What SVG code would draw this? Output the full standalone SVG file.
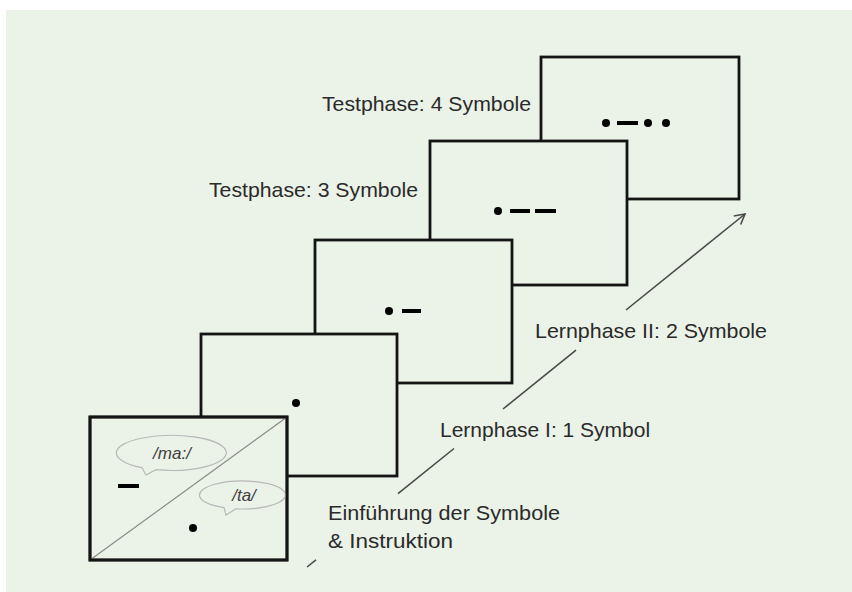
<svg xmlns="http://www.w3.org/2000/svg" width="852" height="592" viewBox="0 0 852 592">
  <style>
    .bg { fill: #EBF2E8; }
    .frame { fill: #EBF2E8; stroke: #141414; stroke-width: 2.8; }
    .sym { fill: #000; }
    .dash { stroke: #000; stroke-width: 4; stroke-linecap: butt; }
    .label { font-family: "Liberation Sans", Arial, sans-serif; font-size: 21px; fill: #2a2a2a; }
    .bubble { fill: #EBF2E8; stroke: #b8b8b8; stroke-width: 1.2; }
    .sound { font-family: "Liberation Sans", Arial, sans-serif; font-style: italic; font-size: 17px; fill: #404040; text-anchor: middle; }
    .flow { fill: none; stroke: #4a4a4a; stroke-width: 1.6; }
  </style>
  <defs>
    <marker id="openHead" markerUnits="userSpaceOnUse" markerWidth="16" markerHeight="16" viewBox="-12 -8 14 16" refX="0" refY="0" orient="auto">
      <path d="M-10,-5.5 L0,0 L-10,5.5" fill="none" stroke="#4a4a4a" stroke-width="1.6"/>
    </marker>
  </defs>

  <rect x="0" y="0" width="852" height="592" fill="#ffffff"/>
  <rect class="bg" x="6" y="10" width="846" height="582"/>

  <!-- progression arrow, interrupted by the phase labels -->
  <g id="connectors">
    <path class="flow" d="M307,567 L316,559.8 M398,493.6 L454,448.5 M503,409 L576,350.2"/>
    <path class="flow" d="M626,310 L745,214" marker-end="url(#openHead)"/>
  </g>

  <!-- stage 5: test phase, four symbols -->
  <g id="test4">
    <rect class="frame" x="541" y="57" width="198" height="142"/>
    <circle class="sym" cx="606" cy="123" r="4"/>
    <line class="dash" x1="617" y1="123" x2="638" y2="123"/>
    <circle class="sym" cx="648" cy="123" r="4"/>
    <circle class="sym" cx="666" cy="123" r="4"/>
    <text class="label" x="322" y="111" textLength="209" lengthAdjust="spacingAndGlyphs">Testphase: 4 Symbole</text>
  </g>

  <!-- stage 4: test phase, three symbols -->
  <g id="test3">
    <rect class="frame" x="430" y="141" width="197" height="144"/>
    <circle class="sym" cx="498" cy="211" r="4"/>
    <line class="dash" x1="510" y1="211" x2="530" y2="211"/>
    <line class="dash" x1="535" y1="211" x2="556" y2="211"/>
    <text class="label" x="209" y="197" textLength="209" lengthAdjust="spacingAndGlyphs">Testphase: 3 Symbole</text>
  </g>

  <!-- stage 3: learning phase II, two symbols -->
  <g id="learn2">
    <rect class="frame" x="315" y="240" width="197" height="143"/>
    <circle class="sym" cx="389" cy="311" r="4"/>
    <line class="dash" x1="402" y1="311" x2="421" y2="311"/>
    <text class="label" x="535" y="338" textLength="232" lengthAdjust="spacingAndGlyphs">Lernphase II: 2 Symbole</text>
  </g>

  <!-- stage 2: learning phase I, one symbol -->
  <g id="learn1">
    <rect class="frame" x="201" y="334" width="196" height="142"/>
    <circle class="sym" cx="296" cy="403" r="4"/>
    <text class="label" x="440" y="437">Lernphase I: 1 Symbol</text>
  </g>

  <!-- stage 1: introduction of the symbols with their sounds -->
  <g id="intro">
    <rect class="frame" x="90" y="417" width="197" height="143"/>
    <line x1="90" y1="560" x2="287" y2="417" stroke="#8a8a8a" stroke-width="1.2"/>
    <path class="bubble" d="M142,467.7 L146,475 L156,469.7 A55,17.5 0 1 0 142,467.7 Z"/>
    <text class="sound" x="172" y="459">/ma:/</text>
    <path class="bubble" d="M224,507.6 L226,515 L236,508.8 A43,14 0 1 0 224,507.6 Z"/>
    <text class="sound" x="244" y="501">/ta/</text>
    <line class="dash" x1="118" y1="486" x2="139" y2="486"/>
    <circle class="sym" cx="193" cy="528" r="4"/>
    <rect x="90" y="417" width="197" height="143" fill="none" stroke="#141414" stroke-width="2.8"/>
    <text class="label" x="328" y="520" textLength="232" lengthAdjust="spacingAndGlyphs">Einführung der Symbole</text>
    <text class="label" x="328" y="548" textLength="125" lengthAdjust="spacingAndGlyphs">&amp; Instruktion</text>
  </g>
</svg>
